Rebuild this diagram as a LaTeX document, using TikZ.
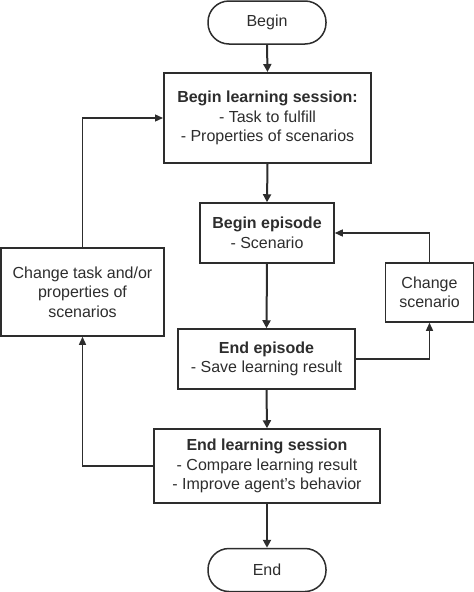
\documentclass[tikz,border=0pt]{standalone}
\usepackage{fontspec}
\setmainfont{Liberation Sans}
\usetikzlibrary{arrows.meta}
\definecolor{ink}{RGB}{45,45,45}
\tikzset{
  box/.style={draw=ink, line width=1.5pt, rectangle, align=center, text=ink, inner sep=0pt,
    font=\fontsize{16}{19.5}\selectfont},
  term/.style={box, rounded corners=21pt, minimum width=118pt, minimum height=43pt},
  flow/.style={draw=ink, line width=2pt, -{Triangle[length=8pt,width=8pt]}},
  back/.style={draw=ink, line width=1.3pt, -{Triangle[length=8pt,width=7pt]}}
}
\begin{document}
\begin{tikzpicture}[x=1pt,y=-1pt]
\useasboundingbox (0,0) rectangle (474,592);
\node[term] (begin) at (267,22.5) {Begin};
\node[box, line width=2pt, minimum width=207pt, minimum height=90pt] (bls) at (267.5,118)
  {\textbf{Begin learning session:}\\- Task to fulfill\\- Properties of scenarios};
\node[box, minimum width=134pt, minimum height=60pt] (be) at (267,233)
  {\textbf{Begin episode}\\- Scenario};
\node[box, minimum width=177pt, minimum height=60pt] (ee) at (266.5,359)
  {\textbf{End episode}\\- Save learning result};
\node[box, minimum width=226pt, minimum height=74pt] (els) at (267,466)
  {\textbf{End learning session}\\- Compare learning result\\- Improve agent's behavior};
\node[term] (end) at (267,570) {End};
\node[box, minimum width=163pt, minimum height=88pt] (ct) at (82.5,292)
  {Change task and/or\\properties of\\scenarios};
\node[box, minimum width=88pt, minimum height=59pt] (cs) at (429.5,292.5)
  {Change\\scenario};
\draw[flow] (begin.south) -- (bls.north);
\draw[flow] (bls.south) -- (be.north);
\draw[flow] (be.south) -- (ee.north);
\draw[flow] (ee.south) -- (els.north);
\draw[flow] (els.south) -- (end.north);
\draw[back] (ct.north) |- (bls.west);
\draw[back] (els.west) -| (ct.south);
\draw[back] (cs.north) |- (be.east);
\draw[back] (ee.east) -| (cs.south);
\end{tikzpicture}
\end{document}
